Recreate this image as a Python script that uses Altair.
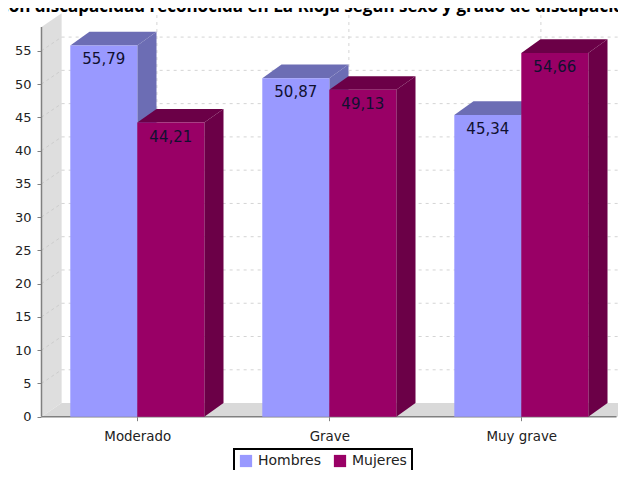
import altair as alt
import pandas as pd

categories = ["Moderado", "Grave", "Muy grave"]
hombres = [55.79, 50.87, 45.34]
mujeres = [44.21, 49.13, 54.66]
labels_h = ["55,79", "50,87", "45,34"]
labels_m = ["44,21", "49,13", "54,66"]
y_ticks = list(range(0, 60, 5))
title_text = "con discapacidad reconocida en La Rioja según sexo y grado de discapacidad"

BAR = 0.349      # bar width, category units
DX = 0.1         # 3D depth, category units
DY = 2.05        # 3D depth, value units
WALL_X = -0.4990
XMAX = 2.5
XEND = 2.5036
TOP = 58.57
W = 610
H = 462
x_scale = alt.Scale(domain=[-0.6734, XEND], nice=False, zero=False)
y_scale = alt.Scale(domain=[(416.7 - 8 - H) / 6.654, (416.7 - 8) / 6.654], nice=False, zero=False)
color_scale = alt.Scale(domain=["Hombres", "Mujeres"], range=["#9999ff", "#990066"])

axis_kw = dict(
    grid=False, domain=False, tickColor="#808080", tickSize=4,
    labelFont="DejaVu Sans", labelColor="#222222", title=None,
)
X_AXIS = alt.Axis(
    values=[0, 1, 2], offset=-(8 + H - 416.7), labelPadding=9, labelFontSize=13.4,
    labelExpr=f"{categories}[datum.value]", **axis_kw)
Y_AXIS = alt.Axis(values=y_ticks, offset=-33, labelPadding=6, labelFontSize=13, **axis_kw)


def X(f="x"):
    return alt.X(f"{f}:Q", scale=x_scale, axis=X_AXIS)


def Y(f="y"):
    return alt.Y(f"{f}:Q", scale=y_scale, axis=Y_AXIS, stack=None)


def area(rows, color, **kw):
    df = pd.DataFrame(rows, columns=["g", "x", "y", "y2"])
    return alt.Chart(df).mark_area(color=color, clip=False, **kw).encode(
        x=X(), y=Y(), y2="y2:Q", detail="g:N"
    )


def faces(vals, offset, side_color):
    side, top = [], []
    for i, v in enumerate(vals):
        xl, xr = i + offset, i + offset + BAR
        side += [(i, xr, v, 0), (i, xr + DX, v + DY, DY)]
        top += [
            (i, xl, v, v),
            (i, xl + DX, v + DY, v),
            (i, xr, v + DY, v),
            (i, xr + DX, v + DY, v + DY),
        ]
    return [area(side, side_color), area(top, side_color)]


def front(vals, name, offset):
    df = pd.DataFrame(
        {"x": [i + offset for i in range(3)],
         "x2": [i + offset + BAR for i in range(3)],
         "y": vals, "y0": [0, 0, 0], "serie": [name] * 3}
    )
    return alt.Chart(df).mark_rect().encode(
        x=X(), x2="x2:Q", y=Y(), y2="y0:Q",
        color=alt.Color(
            "serie:N", scale=color_scale,
            legend=alt.Legend(
                orient="none", legendX=226, legendY=441, direction="horizontal",
                title=None, symbolType="square", symbolSize=150, symbolStrokeWidth=0,
                labelFont="DejaVu Sans", labelFontSize=14, labelColor="#222222",
                strokeColor="#000000", fillColor="#ffffff", padding=5,
                columnPadding=12, symbolOffset=0, labelOffset=5,
            ),
        ),
    )


def value_text(vals, labels, offset):
    df = pd.DataFrame(
        {"x": [i + offset + BAR / 2 for i in range(3)], "y": vals, "t": labels}
    )
    return alt.Chart(df).mark_text(
        font="DejaVu Sans", fontSize=15, baseline="top", dy=7, color="#101030"
    ).encode(x=X(), y=Y(), text="t:N")


wall_x2 = WALL_X + 0.105
floor = area(
    [(0, WALL_X, 0, 0), (0, wall_x2, DY, 0), (0, XMAX, DY, 0), (0, XMAX + 0.105, DY + 0.0, DY)],
    "#d9d9d9",
)
wall = area([(0, WALL_X, TOP, 0), (0, wall_x2, TOP + DY, DY)], "#dedede")

grid_vals = [t for t in y_ticks if t > 0]
grid_df = pd.DataFrame({"y": [t + DY for t in grid_vals], "x": [wall_x2] * len(grid_vals), "x2": [XEND] * len(grid_vals)})
hgrid = alt.Chart(grid_df).mark_rule(color="#d4d4d4", strokeDash=[3, 4], strokeWidth=1).encode(
    x=X(), x2="x2:Q", y=Y()
)
diag_df = pd.DataFrame(
    {"x": [WALL_X] * len(grid_vals), "x2": [wall_x2] * len(grid_vals),
     "y": grid_vals, "y2": [t + DY for t in grid_vals]}
)
dgrid = alt.Chart(diag_df).mark_rule(color="#cccccc", strokeDash=[3, 3], strokeWidth=1).encode(
    x=X(), x2="x2:Q", y=Y(), y2="y2:Q"
)
vgrid_df = pd.DataFrame({"x": [i + DX + 0.002 for i in range(3)], "y": [DY] * 3, "y2": [TOP + DY] * 3})
vgrid = alt.Chart(vgrid_df).mark_rule(color="#d4d4d4", strokeDash=[3, 4], strokeWidth=1).encode(
    x=X(), y=Y(), y2="y2:Q"
)

y_axis_line = alt.Chart(pd.DataFrame({"x": [WALL_X], "y": [0], "y2": [TOP]})).mark_rule(
    color="#808080", strokeWidth=1.5
).encode(x=X(), y=Y(), y2="y2:Q")
x_axis_line = alt.Chart(pd.DataFrame({"x": [WALL_X], "x2": [2.496], "y": [0]})).mark_rule(
    color="#808080", strokeWidth=1.5
).encode(x=X(), x2="x2:Q", y=Y())

title = alt.Chart(pd.DataFrame({"t": [title_text]})).mark_text(
    font="Open Sans", fontWeight="bold", fontSize=17, align="left", baseline="alphabetic",
    color="#000000", clip=False,
).encode(x=alt.value(-8), y=alt.value(4), text="t:N")

chart = alt.layer(
    floor, wall, hgrid, dgrid, vgrid, y_axis_line, x_axis_line,
    *faces(hombres, -BAR, "#6c6db4"), front(hombres, "Hombres", -BAR),
    *faces(mujeres, 0, "#6b0047"), front(mujeres, "Mujeres", 0),
    value_text(hombres, labels_h, -BAR), value_text(mujeres, labels_m, 0),
    title,
).properties(
    width=W, height=H, padding=0, autosize=alt.AutoSizeParams(type="none"),
    background="#ffffff",
).configure_view(stroke=None).configure_legend(strokeWidth=2)

chart.save("out.html", embed_options={"renderer": "svg", "actions": False})
